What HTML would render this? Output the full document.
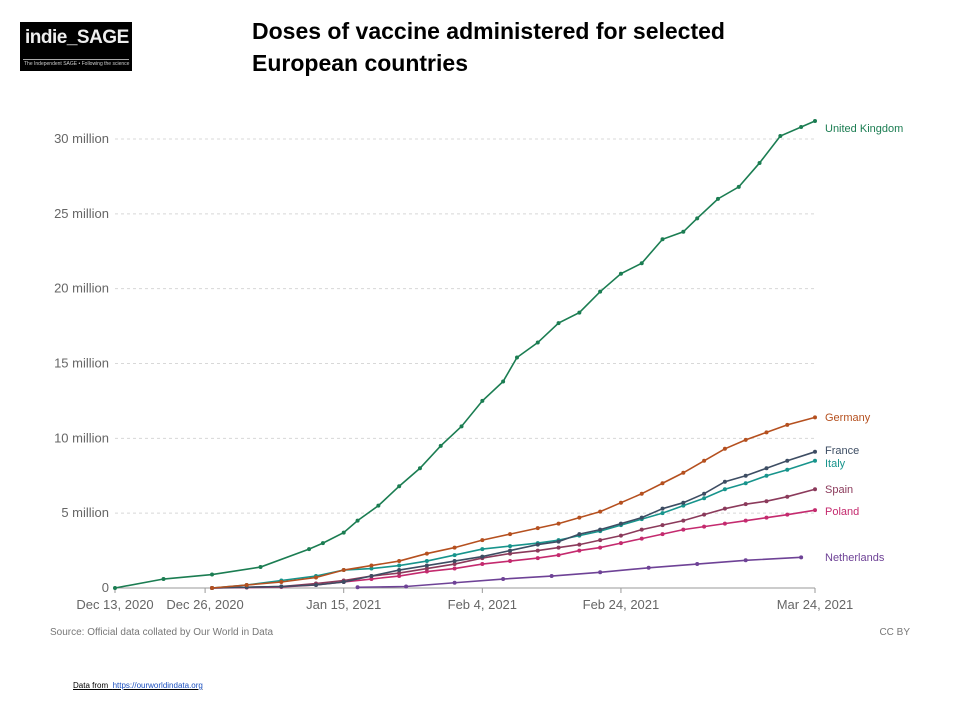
<!DOCTYPE html>
<html><head><meta charset="utf-8"><style>
body{margin:0;background:#fff;width:960px;height:720px;overflow:hidden;font-family:"Liberation Sans",sans-serif;position:relative}
.logo{position:absolute;left:20px;top:22px;width:112px;height:49px;background:#000;color:#eee;overflow:hidden}
.logo .t{position:absolute;left:5px;top:5px;font-size:19px;font-weight:bold;letter-spacing:-0.5px}
.logo .ln{position:absolute;left:3px;right:3px;top:37px;border-top:1px solid #aaa}
.logo .s{position:absolute;left:4px;top:39px;font-size:5px;color:#ccc;white-space:nowrap}
.title{position:absolute;left:252px;top:15px;font-size:23px;font-weight:bold;line-height:32px;color:#000}
.foot{position:absolute;left:73px;top:681px;font-size:8px;color:#000;text-decoration:underline}
.foot a{color:#1a4fbf}
</style></head><body>
<div class="logo"><div class="t">indie_SAGE</div><div class="ln"></div><div class="s">The Independent SAGE • Following the science</div></div>
<div class="title">Doses of vaccine administered for selected<br>European countries</div>
<svg id="chart" width="960" height="720" style="position:absolute;left:0;top:0"></svg>
<div class="foot">Data from&nbsp; <a>https://ourworldindata.org</a></div>
<script>
const yTicks=[0,5,10,15,20,25,30];
const yTickLabels=["0","5 million","10 million","15 million","20 million","25 million","30 million"];
const xTicks=[0,13,33,53,73,101];
const xTickLabels=["Dec 13, 2020","Dec 26, 2020","Jan 15, 2021","Feb 4, 2021","Feb 24, 2021","Mar 24, 2021"];
const ukDays=[0,7,14,21,28,30,33,35,38,41,44,47,50,53,56,58,61,64,67,70,73,76,79,82,84,87,90,93,96,99,101];
const ukVals=[0,0.6,0.9,1.4,2.6,3.0,3.7,4.5,5.5,6.8,8.0,9.5,10.8,12.5,13.8,15.4,16.4,17.7,18.4,19.8,21.0,21.7,23.3,23.8,24.7,26.0,26.8,28.4,30.2,30.8,31.2];
const otherDays=[14,19,24,29,33,37,41,45,49,53,57,61,64,67,70,73,76,79,82,85,88,91,94,97,101];
const deVals=[0,0.2,0.4,0.7,1.2,1.5,1.8,2.3,2.7,3.2,3.6,4.0,4.3,4.7,5.1,5.7,6.3,7.0,7.7,8.5,9.3,9.9,10.4,10.9,11.4];
const frVals=[0,0.05,0.1,0.2,0.4,0.8,1.2,1.5,1.8,2.1,2.5,2.9,3.1,3.6,3.9,4.3,4.7,5.3,5.7,6.3,7.1,7.5,8.0,8.5,9.1];
const itVals=[0,0.2,0.5,0.8,1.2,1.3,1.5,1.8,2.2,2.6,2.8,3.0,3.2,3.5,3.8,4.2,4.6,5.0,5.5,6.0,6.6,7.0,7.5,7.9,8.5];
const esVals=[0,0.05,0.1,0.3,0.5,0.8,1.0,1.3,1.6,2.0,2.3,2.5,2.7,2.9,3.2,3.5,3.9,4.2,4.5,4.9,5.3,5.6,5.8,6.1,6.6];
const plVals=[0,0.03,0.07,0.2,0.4,0.6,0.8,1.1,1.3,1.6,1.8,2.0,2.2,2.5,2.7,3.0,3.3,3.6,3.9,4.1,4.3,4.5,4.7,4.9,5.2];
const nlDays=[35,42,49,56,63,70,77,84,91,99];
const nlVals=[0.05,0.1,0.35,0.6,0.8,1.05,1.35,1.6,1.85,2.05];
const seriesNames=["United Kingdom","Germany","France","Italy","Spain","Poland","Netherlands"];
const seriesColors=["#1b7d52","#b5501f","#3d4d63","#17948c","#8b3a5b","#c42a6e","#6e4296"];
const labelY=[128,417,450,463,489,511,557];

const svg=document.getElementById('chart');
const NS="http://www.w3.org/2000/svg";
const x0=115,x1=815,y0=588,y1=139;
const xs=d=>x0+(x1-x0)*d/101;
const ys=v=>y0-(y0-y1)*v/30;
function mk(t,a){const e=document.createElementNS(NS,t);for(const k in a)e.setAttribute(k,a[k]);svg.appendChild(e);return e;}
yTicks.forEach((v,i)=>{
 if(v>0){const g=mk('line',{x1:x0,x2:x1,y1:ys(v),y2:ys(v),stroke:'#d8d8d8','stroke-dasharray':'3,3'});
 
 }
 const t=mk('text',{x:109,y:ys(v)+4,'text-anchor':'end','font-size':13,fill:'#666'});t.textContent=yTickLabels[i];
 
 
});
const ax=mk('line',{x1:x0,x2:x1,y1:y0,y2:y0,stroke:'#999'});


xTicks.forEach((d,i)=>{
 const tk=mk('line',{x1:xs(d),x2:xs(d),y1:y0,y2:y0+5,stroke:'#999'});
 
 
 const t=mk('text',{x:xs(d),y:y0+21,'text-anchor':'middle','font-size':13,fill:'#666'});t.textContent=xTickLabels[i];
 
 
});
const data=[[ukDays,ukVals],[otherDays,deVals],[otherDays,frVals],[otherDays,itVals],[otherDays,esVals],[otherDays,plVals],[nlDays,nlVals]];
for(let s=data.length-1;s>=0;s--){
 const [D,V]=data[s];const c=seriesColors[s];
 const p=mk('polyline',{points:D.map((d,i)=>xs(d)+','+ys(V[i])).join(' '),fill:'none',stroke:c,'stroke-width':1.6});
 
 
 D.forEach((d,i)=>{const m=mk('circle',{cx:xs(d),cy:ys(V[i]),r:2,fill:c});
 
 });
 const l=mk('text',{x:825,y:labelY[s]+4,'font-size':11,fill:c});l.textContent=seriesNames[s];
 
 
}
const src=mk('text',{x:50,y:635,'font-size':10,fill:'#777'});src.textContent='Source: Official data collated by Our World in Data';


const cc=mk('text',{x:910,y:635,'font-size':10,fill:'#777','text-anchor':'end'});cc.textContent='CC BY';


</script>
</body></html>
